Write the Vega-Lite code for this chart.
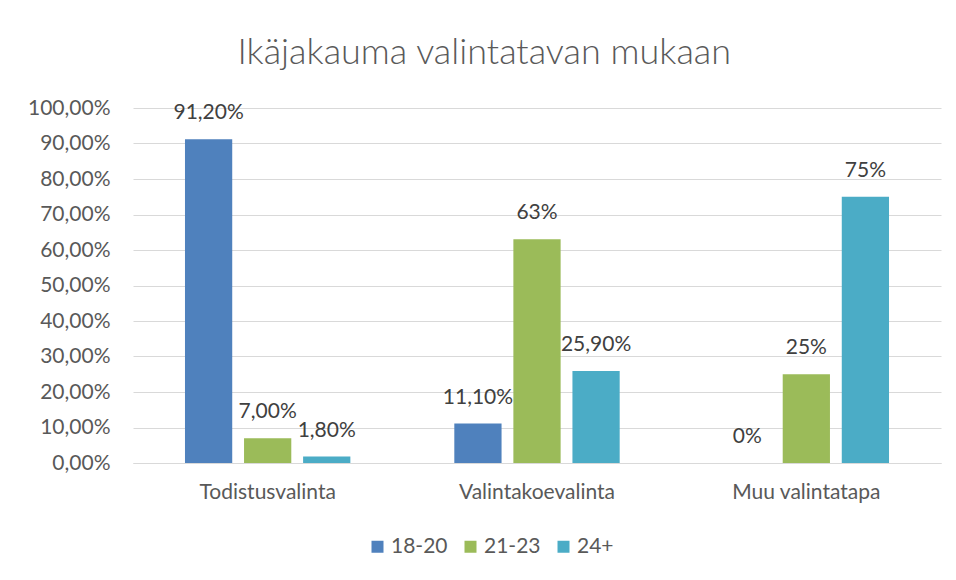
{
  "$schema": "https://vega.github.io/schema/vega-lite/v6.json",
  "width": 808,
  "height": 355,
  "padding": {"left": 27, "top": 35, "right": 16, "bottom": 10},
  "background": "white",
  "title": {
    "text": "Ikäjakauma valintatavan mukaan",
    "font": "Lato",
    "fontSize": 36,
    "fontWeight": 300,
    "color": "#595959",
    "offset": 25,
    "anchor": "middle",
    "frame": "bounds"
  },
  "data": {
    "values": [
      {"tapa": "Todistusvalinta", "ika": "18-20", "arvo": 0.912, "label": "91,20%"},
      {"tapa": "Todistusvalinta", "ika": "21-23", "arvo": 0.07, "label": "7,00%"},
      {"tapa": "Todistusvalinta", "ika": "24+", "arvo": 0.018, "label": "1,80%"},
      {"tapa": "Valintakoevalinta", "ika": "18-20", "arvo": 0.111, "label": "11,10%"},
      {"tapa": "Valintakoevalinta", "ika": "21-23", "arvo": 0.63, "label": "63%"},
      {"tapa": "Valintakoevalinta", "ika": "24+", "arvo": 0.259, "label": "25,90%"},
      {"tapa": "Muu valintatapa", "ika": "18-20", "arvo": 0, "label": "0%"},
      {"tapa": "Muu valintatapa", "ika": "21-23", "arvo": 0.25, "label": "25%"},
      {"tapa": "Muu valintatapa", "ika": "24+", "arvo": 0.75, "label": "75%"}
    ]
  },
  "encoding": {
    "x": {
      "field": "tapa",
      "type": "nominal",
      "sort": ["Todistusvalinta", "Valintakoevalinta", "Muu valintatapa"],
      "scale": {"paddingInner": 0, "paddingOuter": 0},
      "axis": {
        "title": null,
        "labelAngle": 0,
        "labelFont": "Lato",
        "labelFontSize": 21,
        "labelColor": "#595959",
        "labelPadding": 18,
        "ticks": false,
        "domainColor": "#D9D9D9",
        "domainWidth": 1
      }
    },
    "xOffset": {
      "field": "ika",
      "type": "nominal",
      "sort": ["18-20", "21-23", "24+"],
      "scale": {"paddingInner": 0.2, "paddingOuter": 0.88}
    },
    "y": {
      "field": "arvo",
      "type": "quantitative",
      "scale": {"domain": [0, 1]},
      "axis": {
        "title": null,
        "values": [0, 0.1, 0.2, 0.3, 0.4, 0.5, 0.6, 0.7, 0.8, 0.9, 1.0],
        "labelExpr": "replace(format(datum.value * 100, '.2f'), '.', ',') + '%'",
        "labelFont": "Lato",
        "labelFontSize": 21,
        "labelColor": "#595959",
        "labelPadding": 23,
        "minExtent": 105,
        "maxExtent": 105,
        "ticks": false,
        "domain": false,
        "gridColor": "#D9D9D9",
        "gridWidth": 1
      }
    }
  },
  "layer": [
    {
      "mark": {"type": "bar"},
      "encoding": {
        "color": {
          "field": "ika",
          "type": "nominal",
          "sort": ["18-20", "21-23", "24+"],
          "scale": {"domain": ["18-20", "21-23", "24+"], "range": ["#4F81BD", "#9BBB59", "#4BACC6"]},
          "legend": {
            "title": null,
            "orient": "none",
            "legendX": 234,
            "legendY": 428,
            "direction": "horizontal",
            "symbolType": "square",
            "symbolSize": 144,
            "symbolStrokeWidth": 0,
            "labelOffset": 3,
            "labelFont": "Lato",
            "labelFontSize": 21,
            "labelColor": "#595959",
            "columnPadding": 12
          }
        }
      }
    },
    {
      "mark": {"type": "text", "baseline": "middle", "dy": -26, "font": "Lato", "fontSize": 21, "color": "#404040"},
      "encoding": {
        "text": {"field": "label"}
      }
    }
  ],
  "config": {
    "view": {"stroke": null}
  }
}
